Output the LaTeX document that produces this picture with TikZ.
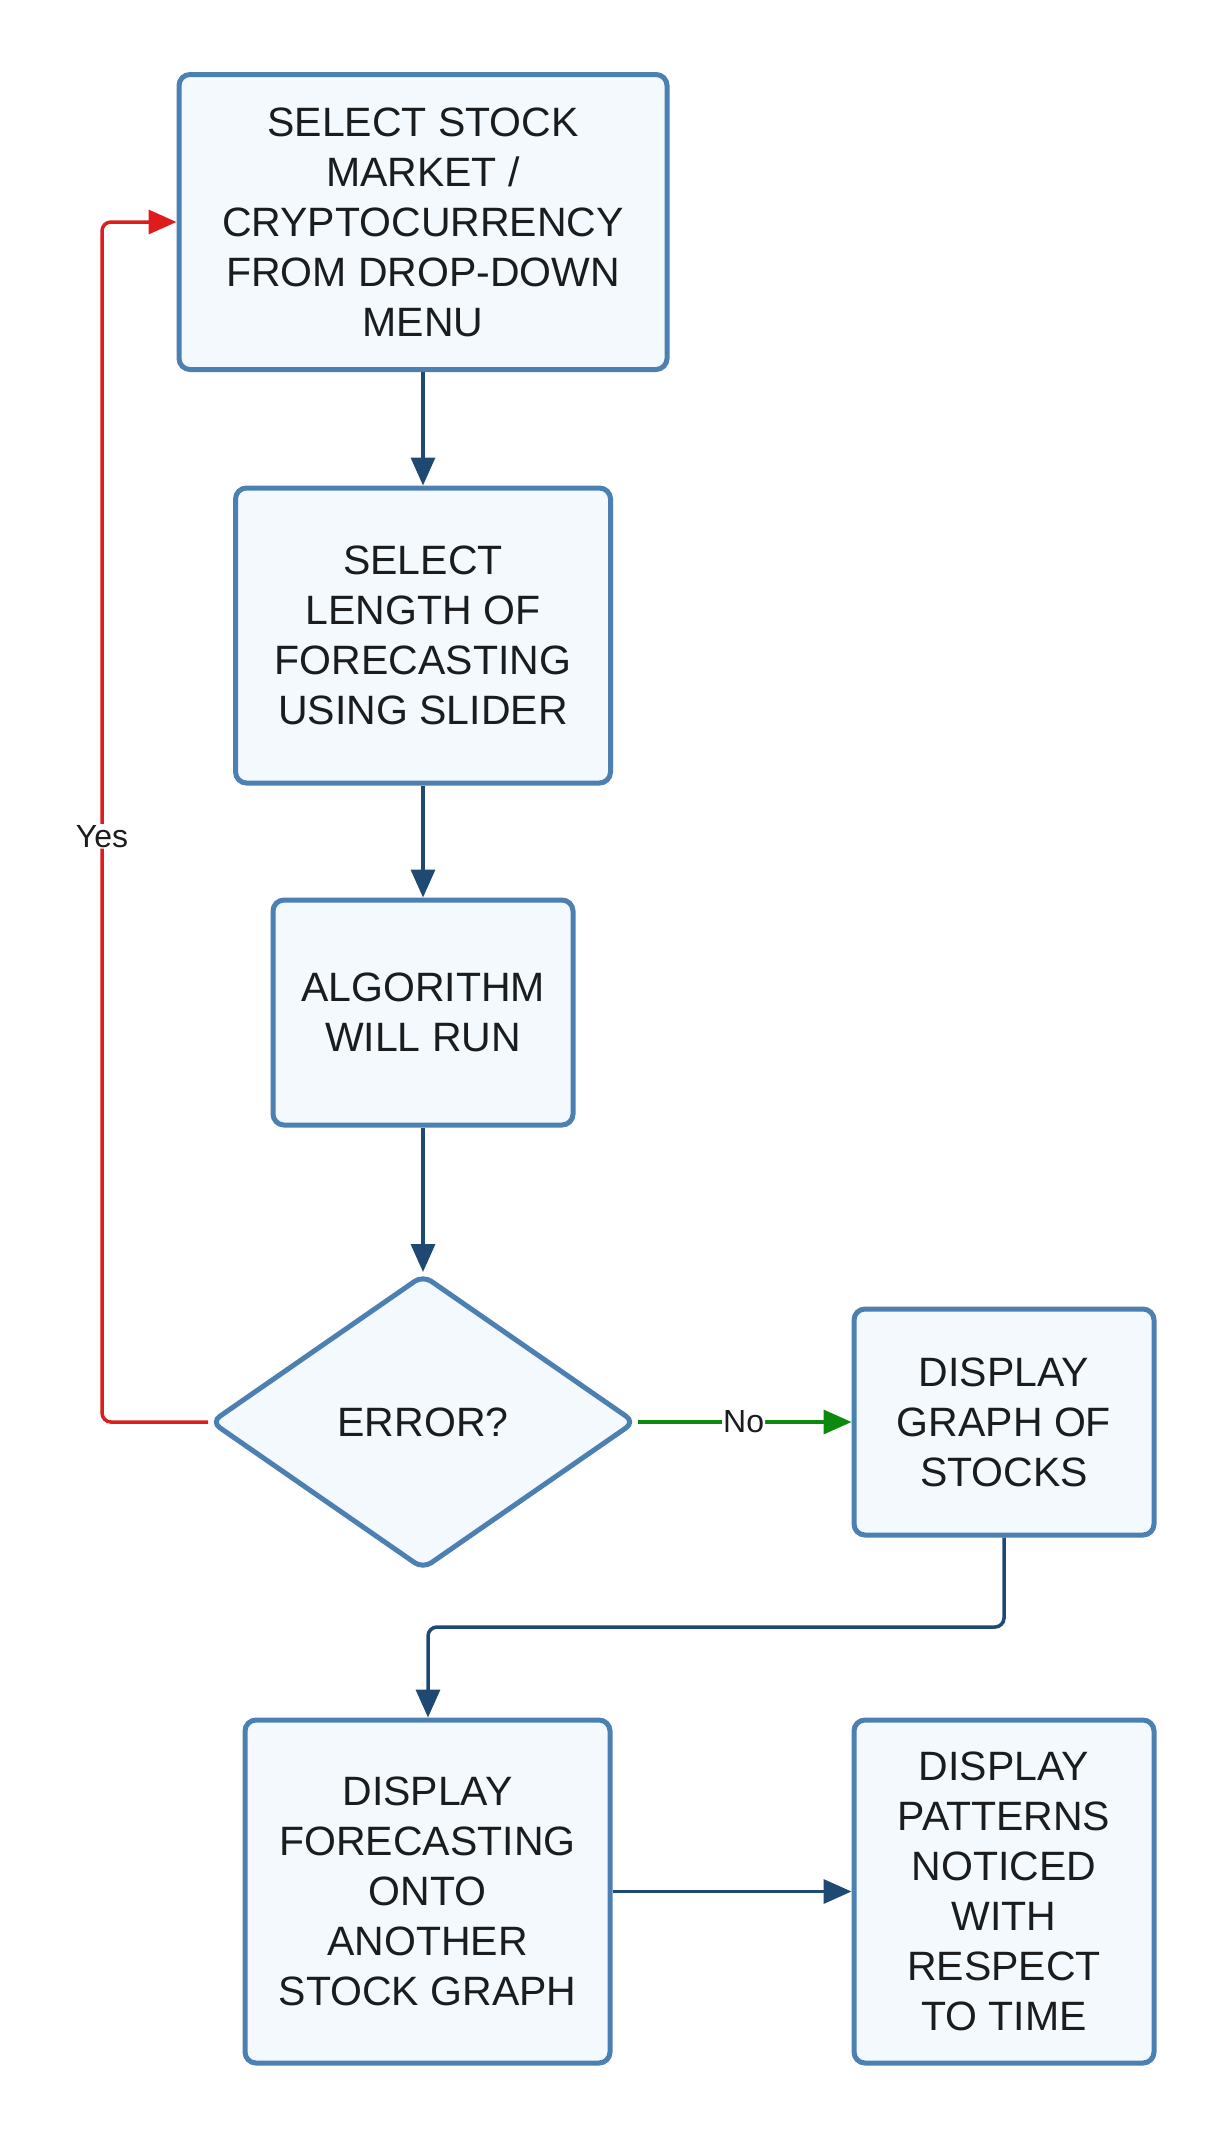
\documentclass[tikz,border=0pt]{standalone}
\usepackage{fontspec}
\setmainfont{Liberation Sans}
\usetikzlibrary{shapes.geometric,arrows.meta}
\definecolor{bordc}{RGB}{76,128,178}
\definecolor{fillc}{RGB}{243,249,252}
\definecolor{linec}{RGB}{31,73,115}
\definecolor{redc}{RGB}{222,28,28}
\definecolor{greenc}{RGB}{12,138,12}
\definecolor{txtc}{RGB}{26,28,30}
\tikzset{
  procbox/.style={draw=bordc, fill=fillc, line width=5pt, rounded corners=11pt,
    align=center, text=txtc, inner sep=0pt,
    font=\fontsize{41pt}{50pt}\selectfont},
  decbox/.style={draw=bordc, fill=fillc, line width=5pt, rounded corners=10pt,
    shape=diamond, align=center, text=txtc, inner sep=0pt,
    font=\fontsize{41pt}{50pt}\selectfont},
  conn/.style={draw=linec, line width=3.5pt, -{Triangle[length=28pt,width=24pt]}, rounded corners=9pt},
  redconn/.style={conn, draw=redc},
  greenconn/.style={conn, draw=greenc},
  lbl/.style={fill=white, text=txtc, inner sep=1pt, font=\fontsize{32pt}{36pt}\selectfont}
}
\begin{document}
\begin{tikzpicture}[x=1pt,y=-1pt]
\useasboundingbox (0,0) rectangle (1230,2139);
\node[procbox, minimum width=488pt, minimum height=295pt] (b1) at (423,222)
  {SELECT STOCK\\MARKET /\\CRYPTOCURRENCY\\FROM DROP-DOWN\\MENU};
\node[procbox, minimum width=375pt, minimum height=295pt] (b2) at (423,635.5)
  {SELECT\\LENGTH OF\\FORECASTING\\USING SLIDER};
\node[procbox, minimum width=300pt, minimum height=225pt] (b3) at (423,1012.5)
  {ALGORITHM\\WILL RUN};
\node[decbox, minimum width=425pt, minimum height=295pt] (d) at (423,1422)
  {ERROR?};
\node[procbox, minimum width=300pt, minimum height=226pt] (b4) at (1004,1422)
  {DISPLAY\\GRAPH OF\\STOCKS};
\node[procbox, minimum width=365pt, minimum height=343pt] (b5) at (427.5,1891.5)
  {DISPLAY\\FORECASTING\\ONTO\\ANOTHER\\STOCK GRAPH};
\node[procbox, minimum width=300pt, minimum height=343pt] (b6) at (1004,1891.5)
  {DISPLAY\\PATTERNS\\NOTICED\\WITH\\RESPECT\\TO TIME};
\coordinate (rc1) at (102,1422);
\coordinate (bc1) at (1004,1627);
\coordinate (bc2) at (428,1627);

\draw[conn] (b1.south) -- (b2.north);
\draw[conn] (b2.south) -- (b3.north);
\draw[conn] (b3.south) -- (d.north);
\draw[redconn] (d.west) -- (rc1) -- node[lbl, pos=0.488] {Yes} (rc1 |- b1.west) -- (b1.west);
\draw[greenconn] (d.east) -- node[lbl, pos=0.495] {No} (b4.west);
\draw[conn] (b4.south) -- (bc1) -- (bc2) -- (b5.north -| bc2);
\draw[conn] (b5.east) -- (b6.west);
\end{tikzpicture}
\end{document}
